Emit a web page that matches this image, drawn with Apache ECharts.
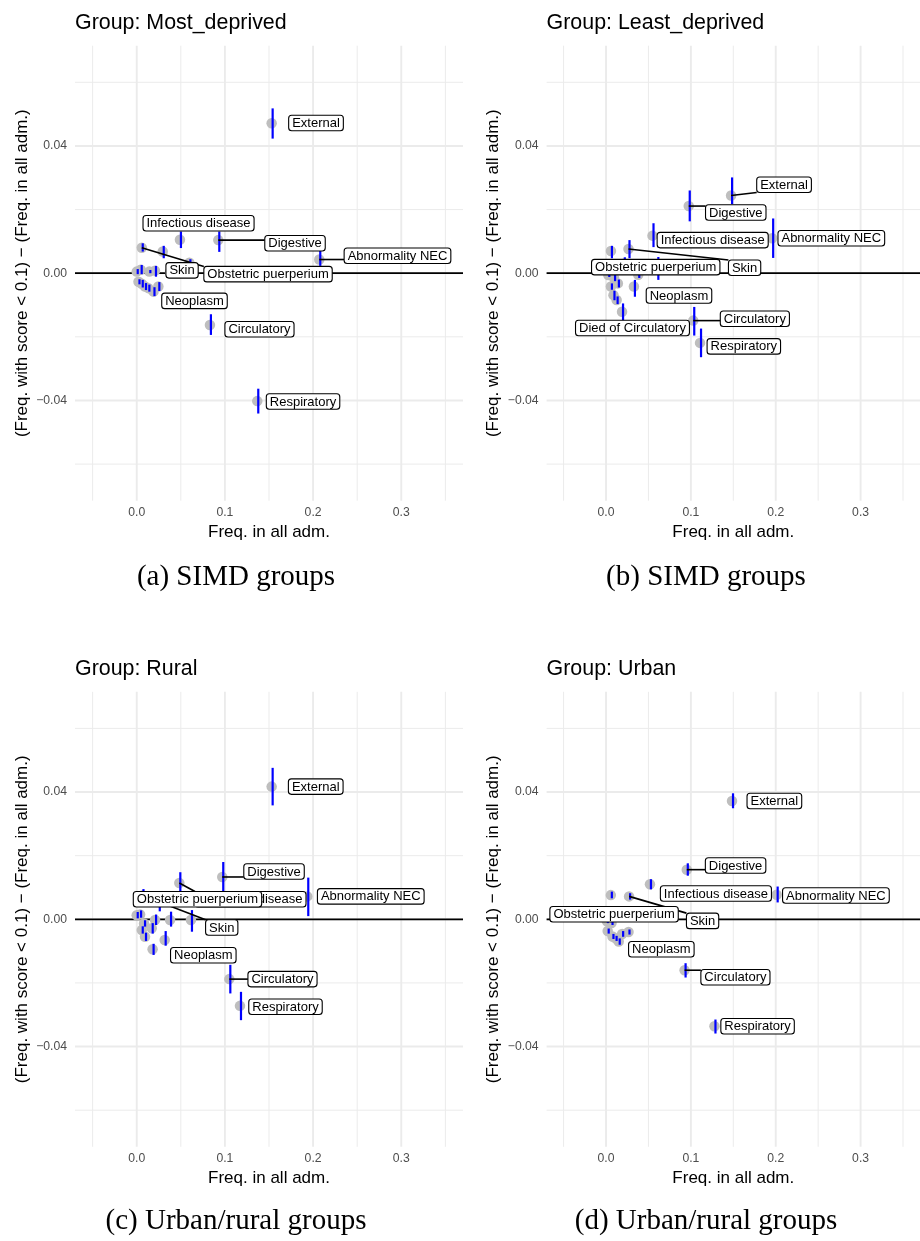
<!DOCTYPE html>
<html>
<head>
<meta charset="utf-8">
<script src="https://cdn.jsdelivr.net/npm/echarts@6/dist/echarts.min.js"></script>
<style>
  html, body { margin: 0; padding: 0; background: #ffffff; }
  #chart { width: 920px; height: 1241px; }
</style>
</head>
<body>
<div id="chart"></div>
<script>
// ---- groups, captions and axis ticks ----
const groups = ['Most_deprived', 'Least_deprived', 'Rural', 'Urban'];
const captions = ['(a) SIMD groups', '(b) SIMD groups', '(c) Urban/rural groups', '(d) Urban/rural groups'];
const xTicks = [0, 0.1, 0.2, 0.3];
const yTicks = [-0.04, 0, 0.04];
const xMinorGrid = [-0.05, 0.05, 0.15, 0.25, 0.35];
const yMinorGrid = [-0.06, -0.02, 0.02, 0.06];

// ---- Most deprived: frequency, difference and interval per diagnosis group ----
const mostName = ['External', 'Digestive', 'Infectious disease', 'Abnormality NEC', 'Circulatory', 'Respiratory',
  'Obstetric puerperium', 'Skin', 'Neoplasm', '', '', '', '', '', '', '', '', '', '', ''];
const mostFreq = [0.153, 0.0925, 0.049, 0.207, 0.083, 0.1367, 0.0057, 0.0295, 0.019,
  0.0, 0.0045, 0.0207, 0.0143, 0.0057, 0.0094, 0.0132, 0.0245, 0.002, 0.0378, 0.0597];
const mostDiff = [0.0471, 0.0104, 0.0105, 0.0043, -0.0163, -0.0402, 0.0080, 0.0068, -0.0058,
  0.0005, 0.0011, 0.0008, 0.0005, -0.0033, -0.0042, -0.0047, -0.0042, -0.0027, 0.0004, 0.0033];
const mostLow = [0.0423, 0.0067, 0.0079, 0.0023, -0.0194, -0.0441, 0.0068, 0.0047, -0.0072,
  -0.0003, -0.0003, -0.0011, 0.0000, -0.0045, -0.0053, -0.0058, -0.0056, -0.0035, -0.0002, 0.0023];
const mostHigh = [0.0518, 0.0131, 0.0131, 0.0073, -0.0129, -0.0363, 0.0094, 0.0086, -0.0044,
  0.0013, 0.0026, 0.0023, 0.0010, -0.0021, -0.0031, -0.0036, -0.0028, -0.0019, 0.0010, 0.0044];

// ---- Least deprived ----
const leastName = ['External', 'Digestive', 'Infectious disease', 'Abnormality NEC', 'Circulatory', 'Respiratory',
  'Skin', 'Obstetric puerperium', 'Neoplasm', 'Died of Circulatory', '', '', '', '', '', '', '', '', ''];
const leastFreq = [0.1474, 0.0975, 0.0548, 0.1958, 0.1028, 0.1108, 0.0265, 0.0058, 0.0329, 0.0189,
  0.021, 0.0605, 0.0027, 0.0095, 0.0058, 0.014, 0.038, 0.0088, 0.0125];
const leastDiff = [0.0244, 0.0211, 0.0118, 0.0110, -0.0149, -0.0219, 0.0076, 0.0070, -0.0042, -0.0121,
  0.0030, 0.0015, -0.0006, -0.0015, -0.0042, -0.0032, -0.0005, -0.0069, -0.0084];
const leastLow = [0.0217, 0.0163, 0.0082, 0.0048, -0.0196, -0.0264, 0.0047, 0.0047, -0.0074, -0.0149,
  0.0010, -0.0021, -0.0012, -0.0025, -0.0052, -0.0045, -0.0015, -0.0085, -0.0097];
const leastHigh = [0.0301, 0.0260, 0.0157, 0.0172, -0.0106, -0.0174, 0.0104, 0.0086, -0.0021, -0.0095,
  0.0050, 0.0051, 0.0000, -0.0005, -0.0032, -0.0020, 0.0007, -0.0055, -0.0073];

// ---- Rural ----
const ruralName = ['External', 'Digestive', 'Abnormality NEC', 'Infectious disease', 'Circulatory', 'Respiratory',
  'Obstetric puerperium', 'Skin', 'Neoplasm', '', '', '', '', '', '', '', '', '', ''];
const ruralFreq = [0.153, 0.097, 0.1934, 0.0483, 0.105, 0.1171, 0.0065, 0.025, 0.018,
  0.0, 0.0038, 0.0083, 0.0057, 0.0094, 0.017, 0.0208, 0.0317, 0.0378, 0.0615];
const ruralDiff = [0.0417, 0.0133, 0.0072, 0.0114, -0.0188, -0.0272, 0.0075, 0.0055, -0.0094,
  0.0013, 0.0015, -0.0013, -0.0034, -0.0055, -0.0028, -0.0002, -0.0065, -0.0002, -0.0002];
const ruralLow = [0.0358, 0.0086, 0.0010, 0.0048, -0.0233, -0.0317, 0.0045, 0.0025, -0.0112,
  0.0003, 0.0005, -0.0023, -0.0045, -0.0068, -0.0045, -0.0018, -0.0083, -0.0023, -0.0039];
const ruralHigh = [0.0476, 0.0180, 0.0131, 0.0148, -0.0143, -0.0228, 0.0095, 0.0085, -0.0077,
  0.0023, 0.0028, -0.0003, -0.0022, -0.0042, -0.0012, 0.0015, -0.0037, 0.0024, 0.0029];

// ---- Urban ----
const urbanName = ['External', 'Digestive', 'Infectious disease', 'Abnormality NEC', 'Circulatory', 'Respiratory',
  'Obstetric puerperium', 'Skin', 'Neoplasm', '', '', '', '', '', '', ''];
const urbanFreq = [0.1485, 0.0952, 0.0518, 0.2011, 0.0926, 0.1278, 0.0057, 0.0272, 0.015,
  0.001, 0.0065, 0.002, 0.0076, 0.019, 0.0265, 0.0113];
const urbanDiff = [0.0372, 0.0156, 0.0110, 0.0077, -0.0160, -0.0336, 0.0076, 0.0072, -0.0070,
  -0.0006, -0.0012, -0.0037, -0.0054, -0.0046, -0.0040, -0.0060];
const urbanLow = [0.0349, 0.0137, 0.0094, 0.0053, -0.0183, -0.0359, 0.0066, 0.0062, -0.0080,
  -0.0012, -0.0018, -0.0045, -0.0062, -0.0055, -0.0048, -0.0068];
const urbanHigh = [0.0396, 0.0176, 0.0126, 0.0103, -0.0138, -0.0315, 0.0087, 0.0082, -0.0060,
  0.0000, -0.0006, -0.0029, -0.0046, -0.0037, -0.0032, -0.0052];

// ---- repelled label placement: [label centre x, label centre y, draw leader] in axis units ----
const mostLabelAt = {
  'External': [0.2033, 0.0472, false], 'Digestive': [0.1795, 0.0094, true],
  'Infectious disease': [0.0701, 0.0157, false], 'Abnormality NEC': [0.2957, 0.0055, true],
  'Skin': [0.0514, 0.0009, false], 'Obstetric puerperium': [0.1489, -0.0003, true],
  'Neoplasm': [0.0655, -0.0087, false], 'Circulatory': [0.1392, -0.0176, false],
  'Respiratory': [0.1886, -0.0403, false]
};
const leastLabelAt = {
  'External': [0.2098, 0.0278, true], 'Digestive': [0.1529, 0.0191, true],
  'Infectious disease': [0.1257, 0.0104, false], 'Abnormality NEC': [0.2655, 0.0110, false],
  'Skin': [0.1633, 0.0017, true], 'Obstetric puerperium': [0.0586, 0.0019, false],
  'Neoplasm': [0.0860, -0.0070, false], 'Died of Circulatory': [0.0312, -0.0172, false],
  'Circulatory': [0.1754, -0.0143, true], 'Respiratory': [0.1624, -0.0230, false]
};
const ruralLabelAt = {
  'External': [0.2030, 0.0417, false], 'Digestive': [0.1557, 0.0150, true],
  'Infectious disease': [0.1290, 0.0063, true], 'Abnormality NEC': [0.2654, 0.0072, false],
  'Obstetric puerperium': [0.0689, 0.0063, false], 'Skin': [0.0964, -0.0026, true],
  'Neoplasm': [0.0755, -0.0113, false], 'Circulatory': [0.1653, -0.0188, true],
  'Respiratory': [0.1687, -0.0275, false]
};
const urbanLabelAt = {
  'External': [0.1984, 0.0372, false], 'Digestive': [0.1527, 0.0169, true],
  'Infectious disease': [0.1295, 0.0081, false], 'Abnormality NEC': [0.2709, 0.0075, false],
  'Obstetric puerperium': [0.0095, 0.0016, false], 'Skin': [0.1138, -0.0005, true],
  'Neoplasm': [0.0652, -0.0094, false], 'Circulatory': [0.1525, -0.0182, true],
  'Respiratory': [0.1786, -0.0336, false]
};

const panels = [
  { freq: mostFreq, diff: mostDiff, low: mostLow, high: mostHigh, name: mostName, labelAt: mostLabelAt },
  { freq: leastFreq, diff: leastDiff, low: leastLow, high: leastHigh, name: leastName, labelAt: leastLabelAt },
  { freq: ruralFreq, diff: ruralDiff, low: ruralLow, high: ruralHigh, name: ruralName, labelAt: ruralLabelAt },
  { freq: urbanFreq, diff: urbanDiff, low: urbanLow, high: urbanHigh, name: urbanName, labelAt: urbanLabelAt }
];

// ---- layout and style ----
const FONT = '"Liberation Sans", Arial, Helvetica, sans-serif';
const SERIF = '"Liberation Serif", "Times New Roman", serif';
const LEFTS = [75, 546.6, 75, 546.6];
const TOPS = [45.7, 45.7, 691.8, 691.8];
const PW = 388, PH = 455;
const X_RANGE = [-0.07, 0.37];
const Y_RANGE = [-0.0715, 0.0715];
const LABEL_FS = 13, LABEL_PAD = 3.5, LABEL_H = 15.5;

const measureCtx = document.createElement('canvas').getContext('2d');
function textWidth(s) {
  measureCtx.font = LABEL_FS + 'px ' + FONT;
  return measureCtx.measureText(s).width;
}

function labelBox(api, panel, name) {
  const at = panel.labelAt[name];
  const c = api.coord([at[0], at[1]]);
  const w = textWidth(name) + 2 * LABEL_PAD;
  return { x: c[0] - w / 2, y: c[1] - LABEL_H / 2, w: w, h: LABEL_H, cx: c[0], cy: c[1], leader: at[2] };
}

// panel grid lines: kind 0 = major x, 1 = minor x, 2 = major y, 3 = minor y
const gridData = []
  .concat(xTicks.map(v => [v, 0, 0]))
  .concat(xMinorGrid.map(v => [v, 0, 1]))
  .concat(yTicks.map(v => [0, v, 2]))
  .concat(yMinorGrid.map(v => [0, v, 3]));

function renderGrid(params, api) {
  const cs = params.coordSys;
  const kind = api.value(2);
  const width = (kind === 0 || kind === 2) ? 1.9 : 1;
  if (kind < 2) {
    const px = api.coord([api.value(0), 0])[0];
    return { type: 'line', shape: { x1: px, y1: cs.y, x2: px, y2: cs.y + cs.height },
      style: { stroke: '#EBEBEB', lineWidth: width } };
  }
  const py = api.coord([0, api.value(1)])[1];
  return { type: 'line', shape: { x1: cs.x, y1: py, x2: cs.x + cs.width, y2: py },
    style: { stroke: '#EBEBEB', lineWidth: width } };
}

function renderZero(params, api) {
  const cs = params.coordSys;
  const py = api.coord([0, api.value(1)])[1];
  return { type: 'line', shape: { x1: cs.x, y1: py, x2: cs.x + cs.width, y2: py },
    style: { stroke: '#000000', lineWidth: 1.8 } };
}

function renderBar(params, api) {
  const hi = api.coord([api.value(0), api.value(3)]);
  const lo = api.coord([api.value(0), api.value(2)]);
  return { type: 'line', shape: { x1: hi[0] + 1, y1: hi[1], x2: lo[0] + 1, y2: lo[1] },
    style: { stroke: '#0000FF', lineWidth: 2.2 } };
}

function makeLeader(panel) {
  return function (params, api) {
    const name = panel.name[api.value(4)];
    const b = labelBox(api, panel, name);
    if (!b.leader) return { type: 'group', children: [] };
    const pt = api.coord([api.value(0), api.value(1)]);
    const nx = Math.min(Math.max(pt[0], b.x), b.x + b.w);
    const ny = Math.min(Math.max(pt[1], b.y), b.y + b.h);
    return { type: 'line', shape: { x1: pt[0], y1: pt[1], x2: nx, y2: ny },
      style: { stroke: '#000000', lineWidth: 1.6 } };
  };
}

function makeLabel(panel) {
  return function (params, api) {
    const name = panel.name[api.value(4)];
    const b = labelBox(api, panel, name);
    return { type: 'group', children: [
      { type: 'rect', shape: { x: b.x, y: b.y, width: b.w, height: b.h, r: 3 },
        style: { fill: '#ffffff', stroke: '#000000', lineWidth: 1.1 } },
      { type: 'text', style: { x: b.cx, y: b.cy + 0.5, text: name, fill: '#000000',
        font: LABEL_FS + 'px ' + FONT, align: 'center', verticalAlign: 'middle' } }
    ] };
  };
}

const grids = [], xAxes = [], yAxes = [], series = [], graphics = [];

panels.forEach((p, i) => {
  grids.push({ left: LEFTS[i], top: TOPS[i], width: PW, height: PH, containLabel: false });
  xAxes.push({
    gridIndex: i, type: 'value', min: X_RANGE[0], max: X_RANGE[1],
    splitLine: { show: false }, axisLine: { show: false }, axisTick: { show: false },
    axisLabel: { customValues: xTicks, formatter: v => v.toFixed(1), color: '#4D4D4D',
      fontSize: 12.2, margin: 6, fontFamily: FONT },
    name: 'Freq. in all adm.', nameLocation: 'middle', nameGap: 23,
    nameTextStyle: { fontSize: 17, color: '#000000', fontFamily: FONT }
  });
  yAxes.push({
    gridIndex: i, type: 'value', min: Y_RANGE[0], max: Y_RANGE[1],
    splitLine: { show: false }, axisLine: { show: false }, axisTick: { show: false },
    axisLabel: { customValues: yTicks,
      formatter: v => (v < 0 ? '\u2212' : '') + Math.abs(v).toFixed(2),
      color: '#4D4D4D', fontSize: 12.2, margin: 8, fontFamily: FONT },
    name: '(Freq. with score < 0.1) \u2212 (Freq. in all adm.)', nameLocation: 'middle', nameGap: 44.5,
    nameTextStyle: { fontSize: 17, color: '#000000', fontFamily: FONT }
  });

  const pts = p.freq.map((f, k) => [f, p.diff[k], p.low[k], p.high[k], k]);
  const named = pts.filter(d => p.name[d[4]] !== '');
  const axes = { xAxisIndex: i, yAxisIndex: i, silent: true, animation: false };

  series.push(Object.assign({ type: 'custom', z: 1, data: gridData, renderItem: renderGrid }, axes));
  series.push(Object.assign({ type: 'custom', z: 2, data: [[0, 0]], renderItem: renderZero }, axes));
  series.push(Object.assign({ type: 'scatter', z: 3, symbolSize: 10.5,
    itemStyle: { color: '#BEBEBE', opacity: 1 }, data: pts.map(d => [d[0], d[1]]) }, axes));
  series.push(Object.assign({ type: 'custom', z: 4, data: pts, renderItem: renderBar }, axes));
  series.push(Object.assign({ type: 'custom', z: 5, data: named, renderItem: makeLeader(p) }, axes));
  series.push(Object.assign({ type: 'custom', z: 6, data: named, renderItem: makeLabel(p) }, axes));

  graphics.push({ type: 'text', x: LEFTS[i], y: TOPS[i] - 22.5,
    style: { text: 'Group: ' + groups[i], font: '21.4px ' + FONT, fill: '#000000',
      align: 'left', verticalAlign: 'middle' } });
});

const captionX = [236, 706, 236, 706];
const captionY = [577, 577, 1221, 1221];
captions.forEach((c, i) => {
  graphics.push({ type: 'text', x: captionX[i], y: captionY[i],
    style: { text: c, font: '29px ' + SERIF, fill: '#000000', align: 'center', verticalAlign: 'middle' } });
});

const chart = echarts.init(document.getElementById('chart'), null, { renderer: 'canvas' });
chart.setOption({
  animation: false,
  backgroundColor: '#ffffff',
  textStyle: { fontFamily: FONT },
  grid: grids,
  xAxis: xAxes,
  yAxis: yAxes,
  series: series,
  graphic: graphics
});
</script>
</body>
</html>
